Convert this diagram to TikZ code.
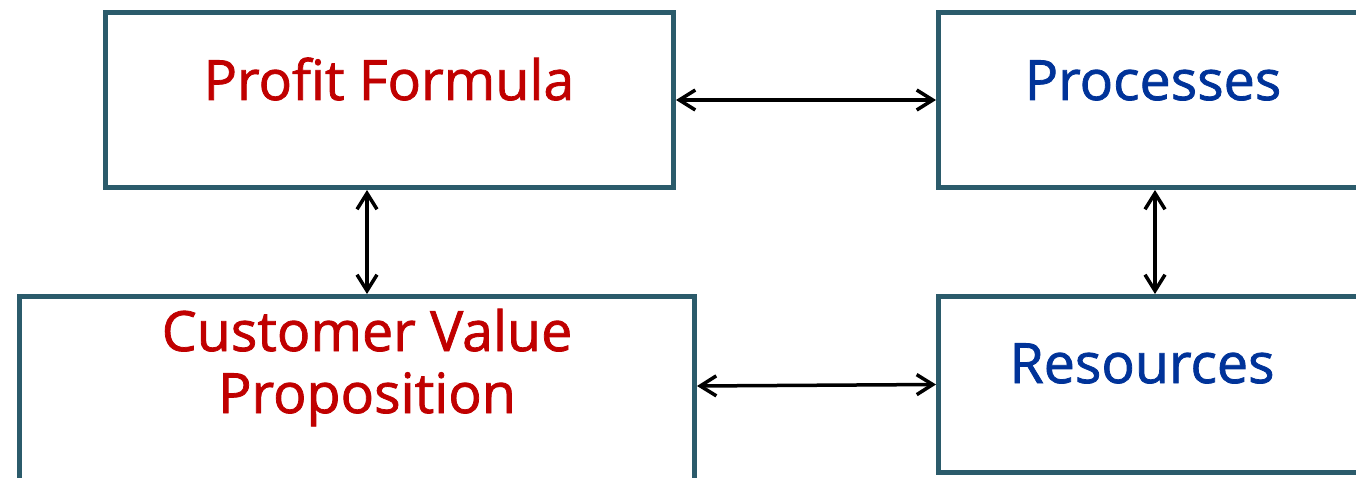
\documentclass[tikz,border=0pt]{standalone}
\usepackage{fontspec}
\setmainfont[FakeBold=1.4]{Open Sans}
\usetikzlibrary{arrows.meta}
\definecolor{boxc}{HTML}{2B5B6B}
\definecolor{redt}{HTML}{C00000}
\definecolor{bluet}{HTML}{003399}
\begin{document}
\begin{tikzpicture}[x=1pt,y=-1pt,
  blk/.style={draw=boxc,line width=5pt,rectangle,inner sep=0pt,anchor=north west},
  lbl/.style={font=\fontsize{55.5}{62}\selectfont,anchor=base,align=center},
  conn/.style={line width=3.5pt,{Straight Barb[length=16pt,width=20pt]}-{Straight Barb[length=16pt,width=20pt]}}]
\useasboundingbox (0,0) rectangle (1356,478);
\clip (0,0) rectangle (1356,478);
\node[blk,minimum width=568pt,minimum height=175pt] (pf) at (103,10) {};
\node[blk,minimum width=500pt,minimum height=175pt] (proc) at (936,10) {};
\node[blk,minimum width=675pt,minimum height=240pt] (cvp) at (17,294) {};
\node[blk,minimum width=500pt,minimum height=176pt] (res) at (936,294) {};
\node[lbl,text=redt] (pft) at (389,100) {Profit Formula};
\node[lbl,text=bluet] (proct) at (1153,100) {Processes};
\node[lbl,text=redt,anchor=base] (cvpt1) at (367,351) {Customer Value};
\node[lbl,text=redt,anchor=base] (cvpt2) at (367,413) {Proposition};
\node[lbl,text=bluet] (rest) at (1142,383) {Resources};
\coordinate (lx) at (367,0);
\coordinate (rx) at (1155,0);
\coordinate (by) at (0,386);
\draw[conn] (pf.east) -- (proc.west);
\draw[conn] (pf.south -| lx) -- (cvp.north -| lx);
\draw[conn] (proc.south -| rx) -- (res.north -| rx);
\draw[conn] (cvp.east |- by) -- (res.west);
\end{tikzpicture}
\end{document}
